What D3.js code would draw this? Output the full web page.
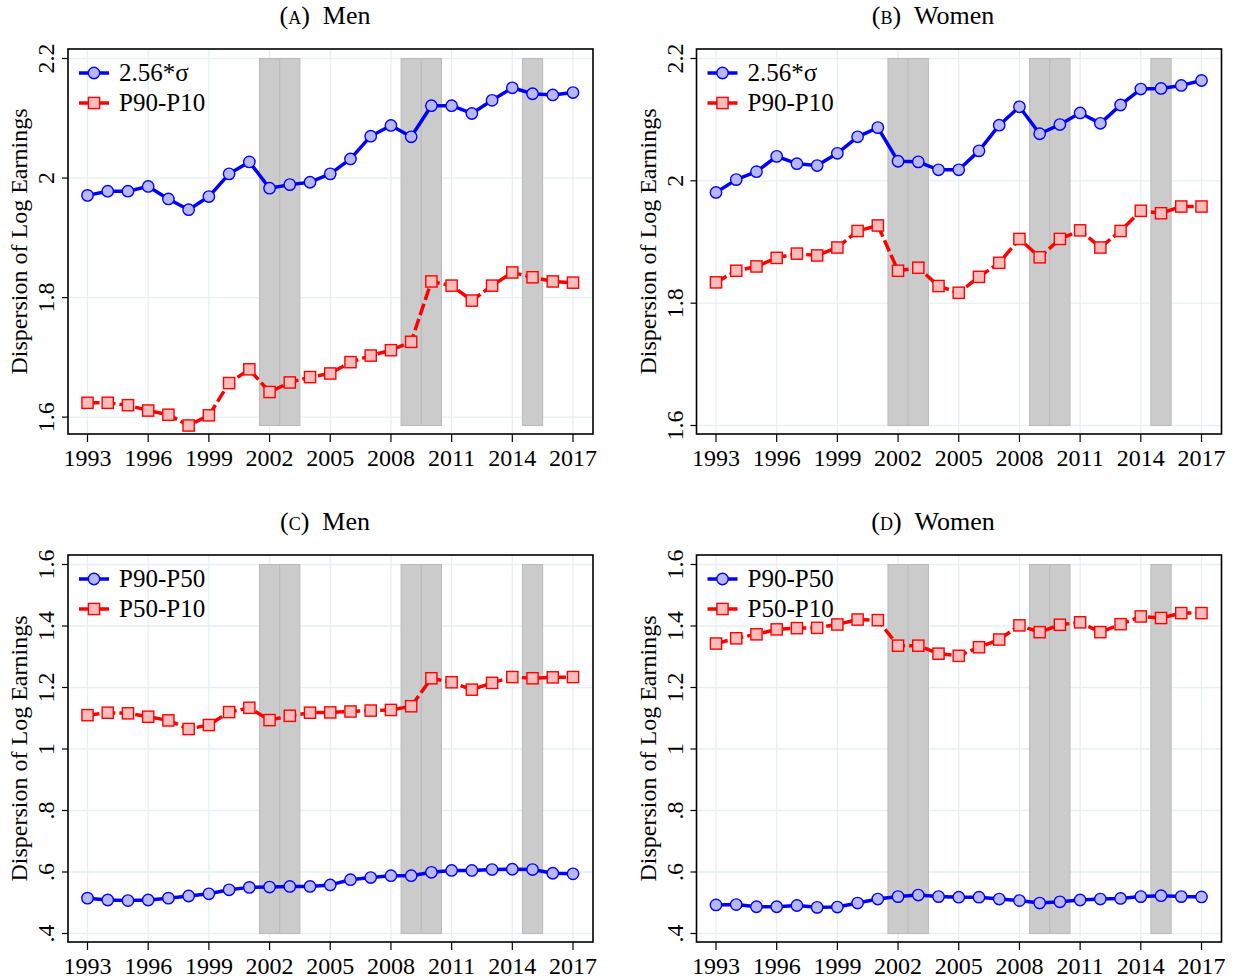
<!DOCTYPE html>
<html>
<head>
<meta charset="utf-8">
<script src="https://cdn.jsdelivr.net/npm/d3@7"></script>
<style>
  html, body { margin: 0; padding: 0; background: #fff; }
  svg text { font-family: "Liberation Serif", "DejaVu Serif", serif; fill: #000; }
</style>
</head>
<body>
<svg id="chart" width="1234" height="979"></svg>
<script>
// Survey years on the horizontal axis
const years = [1993, 1994, 1995, 1996, 1997, 1998, 1999, 2000, 2001, 2002, 2003, 2004, 2005,
               2006, 2007, 2008, 2009, 2010, 2011, 2012, 2013, 2014, 2015, 2016, 2017];
const xTickYears = [1993, 1996, 1999, 2002, 2005, 2008, 2011, 2014, 2017];

// Overall dispersion: 2.56 x standard deviation and P90-P10 gap
const menSd      = [1.971, 1.978, 1.978, 1.986, 1.965, 1.947, 1.969, 2.007, 2.027, 1.983, 1.989, 1.993, 2.007,
                    2.032, 2.070, 2.088, 2.069, 2.121, 2.121, 2.108, 2.130, 2.151, 2.141, 2.139, 2.143];
const menP90P10  = [1.624, 1.624, 1.620, 1.611, 1.604, 1.586, 1.603, 1.657, 1.680, 1.642, 1.658, 1.667, 1.673,
                    1.692, 1.703, 1.712, 1.726, 1.827, 1.820, 1.795, 1.820, 1.842, 1.834, 1.827, 1.825];
const womenSd    = [1.981, 2.002, 2.015, 2.040, 2.028, 2.025, 2.045, 2.072, 2.087, 2.032, 2.031, 2.018, 2.018,
                    2.049, 2.091, 2.121, 2.077, 2.092, 2.111, 2.094, 2.124, 2.150, 2.151, 2.156, 2.164];
const womenP90P10 = [1.834, 1.853, 1.860, 1.874, 1.881, 1.878, 1.891, 1.918, 1.927, 1.853, 1.858, 1.828, 1.817,
                     1.843, 1.866, 1.905, 1.875, 1.905, 1.919, 1.891, 1.918, 1.951, 1.947, 1.958, 1.958];

// Upper and lower tail inequality
const menP90P50  = [0.515, 0.509, 0.507, 0.509, 0.515, 0.522, 0.529, 0.542, 0.550, 0.551, 0.553, 0.553, 0.558,
                    0.575, 0.582, 0.588, 0.588, 0.599, 0.605, 0.605, 0.608, 0.609, 0.608, 0.596, 0.594];
const menP50P10  = [1.110, 1.118, 1.116, 1.105, 1.093, 1.065, 1.078, 1.120, 1.134, 1.094, 1.108, 1.118, 1.119,
                    1.122, 1.125, 1.127, 1.139, 1.230, 1.217, 1.193, 1.215, 1.234, 1.230, 1.233, 1.234];
const womenP90P50 = [0.493, 0.494, 0.487, 0.487, 0.491, 0.485, 0.486, 0.499, 0.512, 0.520, 0.525, 0.520, 0.518,
                     0.518, 0.512, 0.507, 0.499, 0.503, 0.509, 0.512, 0.514, 0.520, 0.523, 0.520, 0.519];
const womenP50P10 = [1.343, 1.360, 1.373, 1.389, 1.393, 1.394, 1.405, 1.421, 1.419, 1.336, 1.336, 1.310, 1.303,
                     1.331, 1.356, 1.402, 1.380, 1.404, 1.412, 1.380, 1.406, 1.431, 1.426, 1.442, 1.442];

// Recession bands (start, end) in years
const recessions = [[2001.5, 2002.5], [2002.5, 2003.5], [2008.5, 2009.5], [2009.5, 2010.5], [2014.5, 2015.5]];

const yTicksTop = [1.6, 1.8, 2.0, 2.2];
const yTicksBottom = [0.4, 0.6, 0.8, 1.0, 1.2, 1.4, 1.6];

const panels = [
  { letter: "a", name: "Men",   col: 0, row: 0, ticks: yTicksTop,
    series: [{ label: "2.56*σ", values: menSd, kind: "circle" }, { label: "P90-P10", values: menP90P10, kind: "square" }] },
  { letter: "b", name: "Women", col: 1, row: 0, ticks: yTicksTop,
    series: [{ label: "2.56*σ", values: womenSd, kind: "circle" }, { label: "P90-P10", values: womenP90P10, kind: "square" }] },
  { letter: "c", name: "Men",   col: 0, row: 1, ticks: yTicksBottom,
    series: [{ label: "P90-P50", values: menP90P50, kind: "circle" }, { label: "P50-P10", values: menP50P10, kind: "square" }] },
  { letter: "d", name: "Women", col: 1, row: 1, ticks: yTicksBottom,
    series: [{ label: "P90-P50", values: womenP90P50, kind: "circle" }, { label: "P50-P10", values: womenP50P10, kind: "square" }] }
];

// Layout
const colFrames = [[68, 593], [696.5, 1221.5]];
const rowFrames = [[49, 434], [555, 942]];
const titleX = [325, 933];
const titleY = [24, 530];

const styles = {
  circle: { stroke: "#0000ff", fill: "#b8b8f8", dash: null },
  square: { stroke: "#ff0000", fill: "#fbbcbc", dash: "12,4" }
};
const gridColor = "#e6eff1";
const shadeFill = "#cbcbcb";
const shadeStroke = "#bababa";

const fmt = v => {
  let s = d3.format("~g")(+v.toFixed(2));
  return s.startsWith("0.") ? s.slice(1) : s;
};

const svg = d3.select("#chart");

panels.forEach(p => {
  const [x0, x1] = colFrames[p.col];
  const [y0, y1] = rowFrames[p.row];
  const g = svg.append("g");

  const allVals = p.series.flatMap(s => s.values);
  const axisMin = d3.min(p.ticks), axisMax = d3.max(p.ticks);
  const lo = Math.min(axisMin, d3.min(allVals));
  const hi = Math.max(axisMax, d3.max(allVals));

  const x = d3.scaleLinear().domain([1993, 2017]).range([x0 + 19.5, x1 - 20]);
  const y = d3.scaleLinear().domain([lo, hi]).range([y1 - 8.5, y0 + 9.5]);

  // Title
  const t = g.append("text")
    .attr("x", titleX[p.col]).attr("y", titleY[p.row])
    .attr("text-anchor", "middle").style("font-size", "26px");
  t.append("tspan").text("(");
  t.append("tspan").style("font-variant", "small-caps").text(p.letter);
  t.append("tspan").text(")\u2002" + p.name);

  // Grid lines
  g.append("g").selectAll("line").data(p.ticks).join("line")
    .attr("x1", x0).attr("x2", x1)
    .attr("y1", d => y(d)).attr("y2", d => y(d))
    .attr("stroke", gridColor).attr("stroke-width", 1.3);
  g.append("g").selectAll("line").data(xTickYears).join("line")
    .attr("x1", d => x(d)).attr("x2", d => x(d))
    .attr("y1", y0).attr("y2", y1)
    .attr("stroke", gridColor).attr("stroke-width", 1.3);

  // Recession shading
  g.append("g").selectAll("rect").data(recessions).join("rect")
    .attr("x", d => x(d[0])).attr("width", d => x(d[1]) - x(d[0]))
    .attr("y", y(axisMax)).attr("height", y(lo) - y(axisMax))
    .attr("fill", shadeFill).attr("stroke", shadeStroke).attr("stroke-width", 1);

  // Series lines and markers
  p.series.forEach(s => {
    const st = styles[s.kind];
    const pts = years.map((yr, i) => [yr, s.values[i]]);
    g.append("path")
      .attr("d", d3.line().x(d => x(d[0])).y(d => y(d[1]))(pts))
      .attr("fill", "none").attr("stroke", st.stroke).attr("stroke-width", 3.5)
      .attr("stroke-linejoin", "round")
      .attr("stroke-dasharray", st.dash);
  });
  p.series.forEach(s => {
    const st = styles[s.kind];
    const pts = years.map((yr, i) => [yr, s.values[i]]);
    const mg = g.append("g");
    if (s.kind === "circle") {
      mg.selectAll("circle").data(pts).join("circle")
        .attr("cx", d => x(d[0])).attr("cy", d => y(d[1])).attr("r", 5.7)
        .attr("fill", st.fill).attr("stroke", st.stroke).attr("stroke-width", 1.4);
    } else {
      mg.selectAll("rect").data(pts).join("rect")
        .attr("x", d => x(d[0]) - 5.6).attr("y", d => y(d[1]) - 5.6)
        .attr("width", 11.2).attr("height", 11.2)
        .attr("fill", st.fill).attr("stroke", st.stroke).attr("stroke-width", 1.4);
    }
  });

  // Frame
  g.append("rect").attr("x", x0).attr("y", y0).attr("width", x1 - x0).attr("height", y1 - y0)
    .attr("fill", "none").attr("stroke", "#000").attr("stroke-width", 1.6);

  // Y axis: outward ticks and rotated labels
  const ya = g.append("g");
  ya.selectAll("line").data(p.ticks).join("line")
    .attr("x1", x0 - 6).attr("x2", x0).attr("y1", d => y(d)).attr("y2", d => y(d))
    .attr("stroke", "#000").attr("stroke-width", 1.2);
  ya.selectAll("text").data(p.ticks).join("text")
    .attr("transform", d => `translate(${x0 - 14},${y(d)}) rotate(-90)`)
    .attr("text-anchor", "middle").style("font-size", "24px")
    .text(d => fmt(d));

  // X axis: ticks and labels
  const xa = g.append("g");
  xa.selectAll("line").data(xTickYears).join("line")
    .attr("x1", d => x(d)).attr("x2", d => x(d)).attr("y1", y1).attr("y2", y1 + 8)
    .attr("stroke", "#000").attr("stroke-width", 1.2);
  xa.selectAll("text").data(xTickYears).join("text")
    .attr("x", d => x(d)).attr("y", y1 + 32)
    .attr("text-anchor", "middle").style("font-size", "24px")
    .text(d => d);

  // Axis title
  g.append("text")
    .attr("transform", `translate(${x0 - 41},${(y0 + y1) / 2}) rotate(-90)`)
    .attr("text-anchor", "middle").style("font-size", "24px")
    .text("Dispersion of Log Earnings");

  // Legend
  p.series.forEach((s, i) => {
    const st = styles[s.kind];
    const ly = y0 + 24 + i * 30;
    const lg = g.append("g");
    lg.append("line").attr("x1", x0 + 11).attr("x2", x0 + 41).attr("y1", ly).attr("y2", ly)
      .attr("stroke", st.stroke).attr("stroke-width", 3.5);
    if (s.kind === "circle") {
      lg.append("circle").attr("cx", x0 + 26).attr("cy", ly).attr("r", 5.7)
        .attr("fill", st.fill).attr("stroke", st.stroke).attr("stroke-width", 1.4);
    } else {
      lg.append("rect").attr("x", x0 + 20.4).attr("y", ly - 5.6).attr("width", 11.2).attr("height", 11.2)
        .attr("fill", st.fill).attr("stroke", st.stroke).attr("stroke-width", 1.4);
    }
    lg.append("text").attr("x", x0 + 51).attr("y", ly + 8).style("font-size", "25px").text(s.label);
  });
});
</script>
</body>
</html>
